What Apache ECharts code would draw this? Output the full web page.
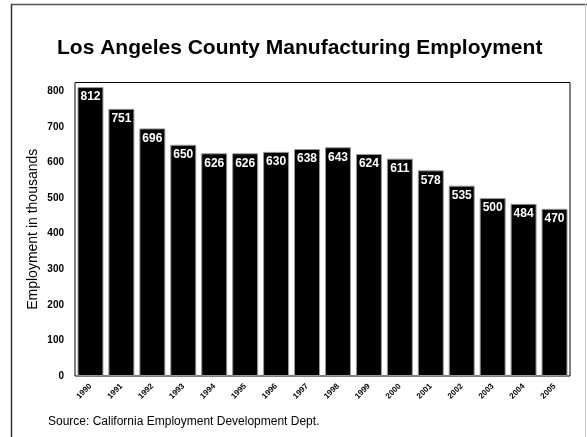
<!DOCTYPE html>
<html>
<head>
<meta charset="utf-8">
<script src="https://cdn.jsdelivr.net/npm/echarts@6/dist/echarts.min.js"></script>
<style>
  html, body { margin: 0; padding: 0; background: #fff; }
  #chart { width: 587px; height: 437px; }
</style>
</head>
<body>
<div id="chart"></div>
<script>
// Los Angeles County manufacturing employment, thousands of jobs
const years = ['1990', '1991', '1992', '1993', '1994', '1995', '1996', '1997',
               '1998', '1999', '2000', '2001', '2002', '2003', '2004', '2005'];
const employment = [812, 751, 696, 650, 626, 626, 630, 638, 643, 624, 611, 578, 535, 500, 484, 470];
const yTicks = [0, 100, 200, 300, 400, 500, 600, 700, 800];

const FONT = '"Liberation Sans", Arial, sans-serif';
const chart = echarts.init(document.getElementById('chart'), null, { renderer: 'canvas' });

chart.setOption({
  backgroundColor: '#fff',
  animation: false,
  title: {
    text: 'Los Angeles County Manufacturing Employment',
    left: 52,
    top: 33,
    textStyle: { fontFamily: FONT, fontSize: 21, fontWeight: 'bold', color: '#000' }
  },
  grid: {
    left: 75, right: 17, top: 82.5, bottom: 61,
    show: true, borderColor: '#000', borderWidth: 1, backgroundColor: '#fff'
  },
  xAxis: {
    type: 'category',
    data: years,
    axisLine: { show: false },
    axisTick: { show: false },
    axisLabel: {
      rotate: 45, fontFamily: FONT, fontSize: 8, fontWeight: 'bold', color: '#000',
      margin: 9, interval: 0
    }
  },
  yAxis: {
    type: 'value',
    min: 0, max: 825, interval: 100,
    name: 'Employment in thousands',
    nameLocation: 'middle',
    nameGap: 35,
    nameMoveOverlap: false,
    nameTextStyle: { fontFamily: FONT, fontSize: 14, color: '#000' },
    axisLine: { show: false },
    axisTick: { show: false },
    splitLine: { show: false },
    axisLabel: {
      fontFamily: FONT, fontSize: 10, fontWeight: 'bold', color: '#000', margin: 11,
      formatter: v => (yTicks.indexOf(v) >= 0 ? String(v) : '')
    }
  },
  series: [{
    type: 'bar',
    data: employment,
    barCategoryGap: '16%',
    itemStyle: { color: '#000', borderColor: '#999', borderWidth: 1 },
    label: {
      show: true, position: 'insideTop', distance: 4,
      fontFamily: FONT, fontSize: 12, fontWeight: 'bold', color: '#fff'
    }
  }],
  graphic: [
    { type: 'line', shape: { x1: 11, y1: 4.5, x2: 587, y2: 4.5 }, style: { stroke: '#555', lineWidth: 1.5 } },
    { type: 'line', shape: { x1: 11.5, y1: 4, x2: 11.5, y2: 437 }, style: { stroke: '#333', lineWidth: 1.5 } },
    { type: 'line', shape: { x1: 585.5, y1: 4, x2: 585.5, y2: 437 }, style: { stroke: '#ccc', lineWidth: 1 } },
    {
      type: 'text', left: 48, top: 416,
      style: { text: 'Source: California Employment Development Dept.', font: '12px ' + FONT, fill: '#000' }
    }
  ]
});
</script>
</body>
</html>
